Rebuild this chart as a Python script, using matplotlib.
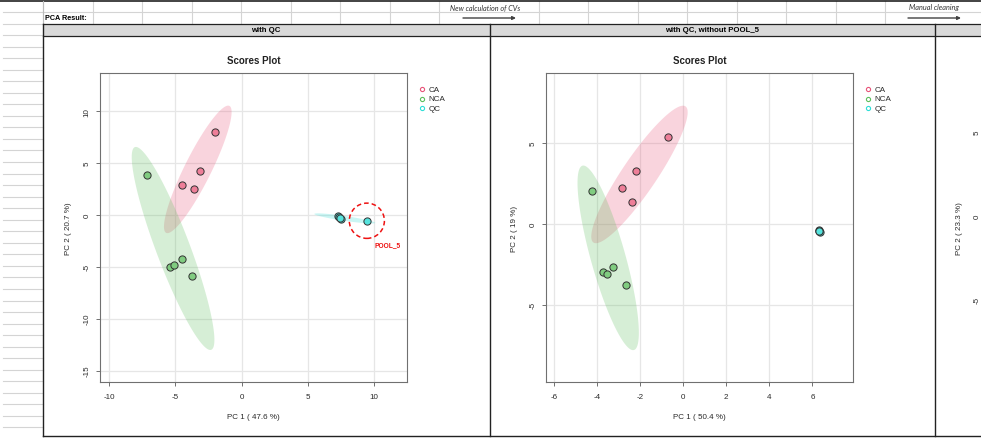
import matplotlib
matplotlib.use("Agg")
import matplotlib.pyplot as plt
import numpy as np
from matplotlib.patches import Ellipse, Rectangle

plt.rcParams['font.family'] = ['Liberation Sans', 'DejaVu Sans']
plt.rcParams['axes.unicode_minus'] = False

# Scores, panel 1 (with QC)
ca1_x = [-2.0, -3.1, -4.5, -3.6]
ca1_y = [8.0, 4.25, 2.87, 2.5]
nca1_x = [-7.16, -5.36, -5.08, -4.48, -3.75]
nca1_y = [3.86, -5.05, -4.8, -4.25, -5.86]
qc1_x = [7.25, 7.35, 7.5, 7.4, 9.46]
qc1_y = [-0.1, -0.2, -0.4, -0.3, -0.62]

# Scores, panel 2 (with QC, without POOL_5)
ca2_x = [-0.72, -2.18, -2.83, -2.39]
ca2_y = [5.38, 3.26, 2.21, 1.36]
nca2_x = [-4.25, -3.7, -3.54, -3.25, -2.67]
nca2_y = [2.0, -3.0, -3.07, -2.64, -3.79]
qc2_x = [6.32, 6.35, 6.33, 6.30]
qc2_y = [-0.37, -0.50, -0.47, -0.42]

groups = ['CA', 'NCA', 'QC']
colors = {'CA': '#E8557A', 'NCA': '#5DBE5D', 'QC': '#2EDED6'}
fills = {'CA': '#EE7E98', 'NCA': '#80CC80', 'QC': '#55E3DD'}

panel_titles = ['with QC', 'with QC, without POOL_5']
x_labels = ['PC 1 ( 47.6 %)', 'PC 1 ( 50.4 %)']
y_labels = ['PC 2 ( 20.7 %)', 'PC 2 ( 19 %)', 'PC 2 ( 23.3 %)']

W, H = 981, 439


def conf_ellipse(x, y, n=200):
    # 95% normal ellipse, like R's ellipse()
    x = np.asarray(x)
    y = np.asarray(y)
    vals, vecs = np.linalg.eigh(np.cov(x, y))
    t = np.linspace(0, 2 * np.pi, n)
    circ = np.stack([np.cos(t), np.sin(t)])
    pts = vecs @ (np.sqrt(np.maximum(vals, 0))[:, None] * circ) * np.sqrt(-2 * np.log(0.05))
    return pts[0] + x.mean(), pts[1] + y.mean()


def style_axes(ax):
    for s in ax.spines.values():
        s.set_color('#707070')
        s.set_linewidth(0.8)
    ax.tick_params(colors='#707070', labelcolor='#2a2a2a', labelsize=5.8,
                   length=3, width=0.7)
    ax.tick_params(axis='x', pad=5)
    ax.tick_params(axis='y', labelrotation=90, pad=4)
    for lab in ax.get_yticklabels():
        lab.set_va('center')
    ax.grid(True, color='#e6e6e6', linewidth=0.9)
    ax.set_axisbelow(True)


def scores_plot(ax, data, xlim, ylim, xticks, yticks, xlabel, ylabel):
    for g in groups:
        ex, ey = conf_ellipse(*data[g])
        ax.fill(ex, ey, color=colors[g], alpha=0.25, lw=0, zorder=1)
    for g in groups:
        ax.plot(data[g][0], data[g][1], 'o', ms=5.2, mfc=fills[g], mec='#333333',
                mew=0.7, zorder=3)
    ax.set_xlim(xlim)
    ax.set_ylim(ylim)
    ax.set_xticks(xticks)
    ax.set_yticks(yticks)
    style_axes(ax)
    ax.set_xlabel(xlabel, fontsize=5.8, color='#2a2a2a', va='center')
    ax.xaxis.set_label_coords(0.5, -0.112)
    ax.set_ylabel(ylabel, fontsize=5.8, color='#2a2a2a', va='center')
    ax.yaxis.set_label_coords(-0.104, 0.5)
    ax.text(0.5, 1.043, 'Scores Plot', transform=ax.transAxes, ha='center',
            va='center', fontsize=7, fontweight='bold', color='#222222')
    # legend
    for i, g in enumerate(groups):
        yy = 0.948 - i * 0.0314
        ax.plot([1.048], [yy], 'o', ms=3, mfc='none', mec=colors[g], mew=0.8,
                transform=ax.transAxes, clip_on=False)
        ax.text(1.07, yy, g, transform=ax.transAxes, fontsize=5.8,
                va='center', ha='left', color='#2a2a2a')


fig = plt.figure(figsize=(W / 100, H / 100), dpi=100)

# spreadsheet background in pixel units
bg = fig.add_axes([0, 0, 1, 1], zorder=0)
bg.set_xlim(0, W)
bg.set_ylim(H, 0)
bg.axis('off')

light = '#d4d4d4'
for k in range(37):
    yy = 13 + 11.54 * k
    bg.plot([3, 43], [yy, yy], color=light, lw=0.8)
bg.plot([43, W], [13, 13], color=light, lw=0.8)
col_x = [43 + 49.55 * k for k in range(19)]
for k, cx in enumerate(col_x):
    if k in (9, 18):
        continue
    bg.plot([cx, cx], [1.5, 24.5], color=light, lw=0.8)
bg.plot([0, W], [1.5, 1.5], color='#222222', lw=1.2)
bg.plot([43, 43], [1.5, 24.5], color='#bbbbbb', lw=0.8)
bg.add_patch(Rectangle((43, 24.5), W - 43, 12, facecolor='#d9d9d9',
                       edgecolor='none'))
bg.plot([43, W], [24.5, 24.5], color='#222222', lw=0.9)
bg.plot([43, W], [36.5, 36.5], color='#222222', lw=0.9)
for cx in (43, 489.5, 935):
    bg.plot([cx, cx], [24.5, 437.5], color='#222222', lw=1.0)
bg.plot([43, W], [437.5, 437.5], color='#222222', lw=1.0)

bg.text(45, 19, 'PCA Result:', fontsize=5.2, fontweight='bold', va='center',
        ha='left')
bg.text(266, 30.5, panel_titles[0], fontsize=5.6, fontweight='bold',
        va='center', ha='center')
bg.text(712, 30.5, panel_titles[1], fontsize=5.6, fontweight='bold',
        va='center', ha='center')
bg.text(485, 7.5, 'New calculation of CVs', fontsize=5.2, style='italic',
        va='center', ha='center', family='Lato', color='#333333')
bg.text(934, 7.5, 'Manual cleaning', fontsize=5.2, style='italic',
        va='center', ha='center', family='Lato', color='#333333')
for x0, x1 in ((463, 516), (908, 961)):
    bg.annotate('', xy=(x1, 19), xytext=(x0, 19),
                arrowprops=dict(arrowstyle='-|>', color='#404040', lw=1.0,
                                mutation_scale=5, shrinkA=0, shrinkB=0))

# panel 1
ax1 = fig.add_axes([100 / W, 56 / H, 307 / W, 309 / H], zorder=2)
scores_plot(ax1, {'CA': (ca1_x, ca1_y), 'NCA': (nca1_x, nca1_y),
                  'QC': (qc1_x, qc1_y)},
            (-10.68, 12.49), (-16.1, 13.7), [-10, -5, 0, 5, 10],
            [-15, -10, -5, 0, 5, 10], x_labels[0], y_labels[0])
# highlight POOL_5
ax1.add_patch(Ellipse((qc1_x[-1], -0.55), 2.65, 3.4, fill=False,
                      edgecolor='#ee1111', lw=1.1, ls=(0, (3, 2)), zorder=4))
ax1.text(10.0, -2.85, 'POOL_5', fontsize=4.8, fontweight='bold',
         color='#ee1111', ha='left', va='center', zorder=4)

# panel 2
ax2 = fig.add_axes([546 / W, 56 / H, 307.3 / W, 309 / H], zorder=2)
scores_plot(ax2, {'CA': (ca2_x, ca2_y), 'NCA': (nca2_x, nca2_y),
                  'QC': (qc2_x, qc2_y)},
            (-6.37, 7.9), (-9.77, 9.32), [-6, -4, -2, 0, 2, 4, 6],
            [-5, 0, 5], x_labels[1], y_labels[1])

# panel 3 (mostly outside the picture)
ax3 = fig.add_axes([990 / W, 56 / H, 0.3, 309 / H], zorder=2)
ax3.set_xlim(-6, 8)
ax3.set_ylim(-9.96, 8.54)
ax3.set_xticks([])
ax3.set_yticks([-5, 0, 5])
style_axes(ax3)
ax3.set_ylabel(y_labels[2], fontsize=5.8, color='#2a2a2a', va='center')
ax3.yaxis.set_label_coords(-0.104, 0.5)

fig.savefig('out.png', dpi=100)
